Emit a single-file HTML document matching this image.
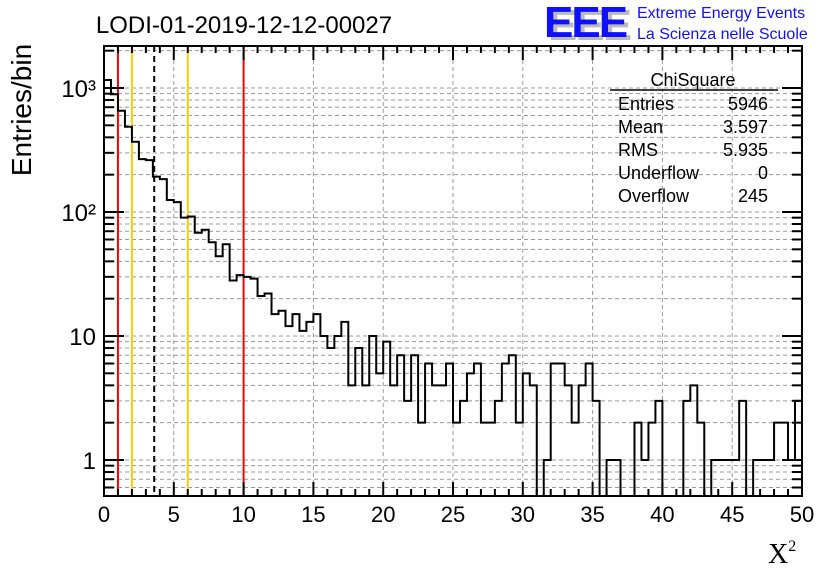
<!DOCTYPE html>
<html><head><meta charset="utf-8"><style>
body{margin:0;background:#fff}
svg{display:block;font-family:"Liberation Sans",sans-serif}
</style></head><body>
<svg id="c" width="836" height="572" viewBox="0 0 836 572">
<rect width="836" height="572" fill="#fff"/>
<g id="grid"></g>
<g id="vlines"></g>
<path id="hist" fill="none" stroke="#000" stroke-width="2"/>
<g id="axes"></g>
<text x="244" y="33" font-size="24" text-anchor="middle">LODI-01-2019-12-12-00027</text>
<g>
<text x="548" y="40" font-size="44" font-weight="bold" fill="#bbb" letter-spacing="-2">EEE</text>
<text x="544" y="37" font-size="44" font-weight="bold" fill="#1010ff" letter-spacing="-2">EEE</text>
<text x="637" y="18" font-size="16" fill="#1010ff">Extreme Energy Events</text>
<text x="637" y="39" font-size="16" fill="#1010ff">La Scienza nelle Scuole</text>
</g>
<g font-size="18">
<text x="693" y="86" text-anchor="middle">ChiSquare</text>
<line x1="610" y1="90" x2="778" y2="90" stroke="#000" stroke-width="1.5"/>
<text x="618" y="110">Entries</text><text x="768" y="110" text-anchor="end">5946</text>
<text x="618" y="133">Mean</text><text x="768" y="133" text-anchor="end">3.597</text>
<text x="618" y="156">RMS</text><text x="768" y="156" text-anchor="end">5.935</text>
<text x="618" y="179">Underflow</text><text x="768" y="179" text-anchor="end">0</text>
<text x="618" y="202">Overflow</text><text x="768" y="202" text-anchor="end">245</text>
</g>
<text transform="translate(31,110) rotate(-90)" font-size="28" text-anchor="middle">Entries/bin</text>
<text x="768" y="563" font-size="28" font-family="Liberation Serif,serif">X<tspan font-size="16" dy="-12">2</tspan></text>
</svg>
<script>
const counts=[1160,890,656,487,369,267,262,193,184,125,120,90,92,68,72,57,44,55,28,31,30,29,21,22,15,16,12,15,11,13,15,10,8,10,13,4,8,4,10,5,9,4,7,3,7,2,6,4,4,6,2,3,5,6,2,2,3,6,7,2,5,4,0,1,6,6,4,2,4,6,3,0,1,1,0,0,2,1,2,3,0,0,0,3,4,2,0,1,1,1,1,3,0,1,1,1,2,2,1,3];
const xMin=0,xMax=50;
const xTicks=[0,5,10,15,20,25,30,35,40,45,50];
const yDecades=[1,10,100,1000];
const yDecadeLabels=["1","10","10²","10³"];
const vLineX=[1,2,3.597,6,10];
const vLineColors=["#ff0000","#ffcc00","#000","#ffcc00","#ff0000"];
const L=104,R=802,T=46,B=496;
const X=v=>L+(v-xMin)/(xMax-xMin)*(R-L);
const Y=v=>460-124*Math.log10(v);
const NS="http://www.w3.org/2000/svg";
function mk(tag,at,parent){const e=document.createElementNS(NS,tag);for(const k in at)e.setAttribute(k,at[k]);parent.appendChild(e);return e;}
const grid=document.getElementById('grid'),axes=document.getElementById('axes'),vl=document.getElementById('vlines');
const yminor=[];
for(const d of [0.1,1,10,100,1000])for(let m=1;m<10;m++){const v=d*m;const y=Y(v);if(y<=B&&y>=T)yminor.push([v,m===1]);}
for(const [v,maj] of yminor){const y=Y(v);
const g=mk('line',{x1:L,x2:R,y1:y,y2:y,stroke:'#999','stroke-dasharray':'4,3','stroke-width':1},grid);

const len=maj?20:10;
const t1=mk('line',{x1:L,x2:L+len,y1:y,y2:y,stroke:'#000','stroke-width':2},axes);

const t2=mk('line',{x1:R,x2:R-len,y1:y,y2:y,stroke:'#000','stroke-width':2},axes);
}
yDecades.forEach((v,i)=>{const t=mk('text',{x:L-8,y:Y(v)+9,'font-size':24,'text-anchor':'end'},axes);t.textContent=yDecadeLabels[i];
});
for(let v=xMin;v<=xMax;v++){const x=X(v);const maj=v%5===0;
if(maj&&v>xMin&&v<xMax){const g=mk('line',{x1:x,x2:x,y1:T,y2:B,stroke:'#999','stroke-dasharray':'4,3','stroke-width':1},grid);
}
const len=maj?14:7;
const a=mk('line',{x1:x,x2:x,y1:B,y2:B-len,stroke:'#000','stroke-width':2},axes);

const b=mk('line',{x1:x,x2:x,y1:T,y2:T+len,stroke:'#000','stroke-width':2},axes);
}
xTicks.forEach(v=>{const t=mk('text',{x:X(v),y:522,'font-size':22,'text-anchor':'middle'},axes);t.textContent=String(v);
});
const fr=mk('rect',{x:L,y:T,width:R-L,height:B-T,fill:'none',stroke:'#000','stroke-width':2},axes);

vLineX.forEach((v,i)=>{const at={x1:X(v),x2:X(v),y1:T,y2:B,stroke:vLineColors[i],'stroke-width':2};
if(i===2)at['stroke-dasharray']='6,4';
const l=mk('line',at,vl);});
const w=(xMax-xMin)/counts.length;
const cy=v=>v>0?Math.max(T,Math.min(B,Y(v))):B;
let d='M'+X(xMin)+','+cy(counts[0]);
counts.forEach((c,i)=>{const y=cy(c);d+=' L'+X(xMin+i*w)+','+y+' L'+X(xMin+(i+1)*w)+','+y;});
document.getElementById('hist').setAttribute('d',d);
</script>
</body></html>
